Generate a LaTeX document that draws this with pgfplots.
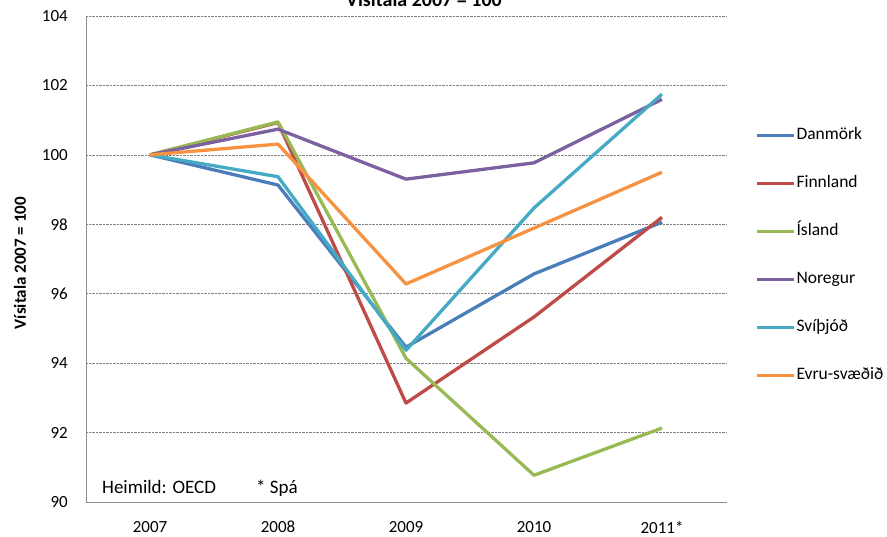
\documentclass[border=0pt]{standalone}
\usepackage{pgfplots}
\pgfplotsset{compat=1.18}
\usepackage{fontspec}
\setmainfont{Carlito}
\definecolor{cDK}{HTML}{4A7EBB}
\definecolor{cFI}{HTML}{BE4B48}
\definecolor{cIS}{HTML}{98B954}
\definecolor{cNO}{HTML}{7D60A0}
\definecolor{cSE}{HTML}{46AAC5}
\definecolor{cEU}{HTML}{F69240}
\begin{document}
\begin{tikzpicture}
\begin{axis}[
  scale only axis, width=640pt, height=486pt,
  xmin=-0.5, xmax=4.5, ymin=90, ymax=104,
  xtick={0,1,2,3,4}, xticklabels={2007,2008,2009,2010,2011*},
  ytick={90,92,...,104},
  major tick length=0pt,
  axis x line*=bottom, axis y line*=left,
  axis line style={-, draw=black!45, line width=0.9pt},
  ymajorgrids, grid style={densely dotted, black!50, line width=0.6pt},
  /pgf/number format/assume math mode=true,
  tick label style={font=\fontsize{17}{19}\selectfont},
  yticklabel style={anchor=east, inner sep=0pt, xshift=-18pt},
  xticklabel style={anchor=north, inner sep=0pt, yshift=-19pt},
  every axis plot/.append style={line width=3.3pt, line join=round, no markers},
  legend cell align=left,
  legend image code/.code={\draw[#1] (0pt,0pt) -- (37pt,0pt);},
  legend style={draw=none, fill=none, at={(rel axis cs:1,1)}, anchor=north west,
    xshift=29pt, yshift=-110pt, row sep=30pt, inner sep=0pt,
    font=\fontsize{17.5}{20}\selectfont,
    nodes={inner sep=1pt, text height=12pt, text depth=4pt}},
]
\addplot[cDK] coordinates {(0,100) (1,99.13) (2,94.46) (3,96.57) (4,98.06)};
\addlegendentry{Danmörk}
\addplot[cFI] coordinates {(0,100) (1,100.93) (2,92.85) (3,95.33) (4,98.2)};
\addlegendentry{Finnland}
\addplot[cIS] coordinates {(0,100) (1,100.95) (2,94.14) (3,90.77) (4,92.13)};
\addlegendentry{Ísland}
\addplot[cNO] coordinates {(0,100) (1,100.74) (2,99.30) (3,99.77) (4,101.6)};
\addlegendentry{Noregur}
\addplot[cSE] coordinates {(0,100) (1,99.37) (2,94.37) (3,98.47) (4,101.75)};
\addlegendentry{Svíþjóð}
\addplot[cEU] coordinates {(0,100) (1,100.31) (2,96.28) (3,97.89) (4,99.5)};
\addlegendentry{Evru-svæðið}
\coordinate (O) at (rel axis cs:0,0);
\node[anchor=base west, inner sep=0pt, font=\fontsize{19}{21}\selectfont] at (rel axis cs:0.025,0.0165) {Heimild: OECD};
\node[anchor=base west, inner sep=0pt, font=\fontsize{19}{21}\selectfont] at (rel axis cs:0.2656,0.0165) {* Spá};
\end{axis}
\node[anchor=base, inner sep=0pt, font=\bfseries\fontsize{20}{22}\selectfont] at ([shift={(338pt,495.5pt)}]O) {Vísitala 2007 = 100};
\node[rotate=90, inner sep=0pt, font=\bfseries\fontsize{17}{19}\selectfont] at ([shift={(-66pt,239pt)}]O) {Vísitala 2007 = 100};
\pgfresetboundingbox
\path ([shift={(-86pt,-35pt)}]O) rectangle ([shift={(801pt,502pt)}]O);
\end{tikzpicture}
\end{document}
